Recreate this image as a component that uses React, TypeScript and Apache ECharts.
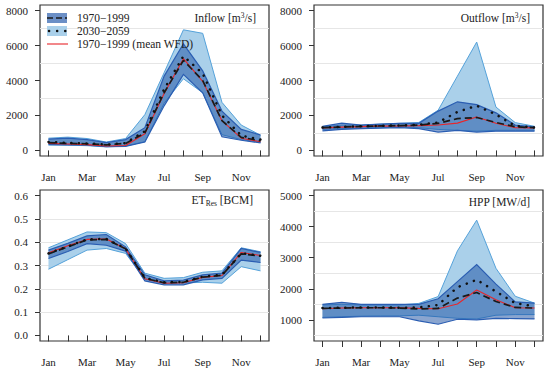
import React, { useEffect, useRef } from "react";
import * as echarts from "echarts";

const months = ["Jan", "Feb", "Mar", "Apr", "May", "Jun", "Jul", "Aug", "Sep", "Oct", "Nov", "Dec"];
const monthIdx = [1, 2, 3, 4, 5, 6, 7, 8, 9, 10, 11, 12];
const monthLabelIdx = [1, 3, 5, 7, 9, 11];

// Inflow [m3/s]
const inflowHistLow = [350, 320, 300, 210, 230, 480, 2550, 4350, 3300, 780, 580, 430];
const inflowHistHigh = [650, 700, 620, 450, 620, 1300, 4250, 6100, 4550, 2250, 1200, 880];
const inflowFutLow = [300, 300, 270, 200, 250, 500, 2700, 4100, 3300, 900, 620, 470];
const inflowFutHigh = [700, 760, 680, 480, 680, 2050, 4450, 6900, 6700, 2750, 1450, 870];
const inflowHistMean = [450, 400, 380, 320, 400, 1000, 3300, 5150, 4000, 1700, 750, 550];
const inflowFutMean = [480, 430, 400, 330, 420, 1100, 3500, 5400, 4400, 2000, 850, 620];
const inflowWFD = [400, 370, 330, 250, 280, 950, 3250, 5250, 3950, 1700, 700, 500];

// Outflow [m3/s]
const outHistLow = [1120, 1200, 1250, 1280, 1300, 1250, 1050, 1150, 1050, 1100, 1100, 1100];
const outHistHigh = [1380, 1560, 1450, 1500, 1550, 1550, 2250, 2780, 2620, 2150, 1450, 1350];
const outFutLow = [1200, 1250, 1260, 1300, 1350, 1300, 1200, 1150, 1100, 1150, 1150, 1150];
const outFutHigh = [1350, 1450, 1450, 1500, 1550, 1600, 2300, 4250, 6200, 2480, 1590, 1380];
const outHistMean = [1300, 1340, 1370, 1400, 1420, 1450, 1550, 1820, 1880, 1600, 1350, 1300];
const outFutMean = [1310, 1350, 1380, 1410, 1430, 1470, 1600, 2200, 2560, 2050, 1400, 1310];
const outWFD = [1290, 1330, 1360, 1390, 1400, 1420, 1450, 1560, 1910, 1550, 1300, 1290];

// ET_Res [BCM]
const etHistLow = [0.33, 0.36, 0.394, 0.387, 0.362, 0.234, 0.217, 0.217, 0.238, 0.245, 0.323, 0.313];
const etHistHigh = [0.366, 0.395, 0.427, 0.433, 0.38, 0.26, 0.234, 0.237, 0.26, 0.267, 0.373, 0.356];
const etFutLow = [0.284, 0.325, 0.366, 0.373, 0.352, 0.241, 0.223, 0.225, 0.228, 0.224, 0.295, 0.277];
const etFutHigh = [0.376, 0.41, 0.444, 0.441, 0.394, 0.267, 0.245, 0.248, 0.271, 0.277, 0.376, 0.359];
const etHistMean = [0.35, 0.38, 0.41, 0.412, 0.372, 0.245, 0.226, 0.228, 0.25, 0.258, 0.35, 0.34];
const etFutMean = [0.352, 0.382, 0.412, 0.414, 0.373, 0.247, 0.228, 0.23, 0.252, 0.26, 0.352, 0.342];
const etWFD = [0.355, 0.385, 0.412, 0.414, 0.372, 0.243, 0.224, 0.226, 0.249, 0.257, 0.356, 0.343];

// HPP [MW/d]
const hppHistLow = [1060, 1080, 1100, 1100, 1100, 970, 860, 1020, 1000, 1050, 1040, 1030];
const hppHistHigh = [1500, 1565, 1500, 1500, 1500, 1500, 1680, 2230, 2780, 2150, 1580, 1540];
const hppFutLow = [1080, 1100, 1120, 1130, 1130, 1150, 1100, 1050, 1030, 1150, 1170, 1170];
const hppFutHigh = [1480, 1500, 1480, 1480, 1480, 1530, 1750, 3220, 4210, 2660, 1760, 1540];
const hppHistMean = [1370, 1380, 1390, 1390, 1380, 1350, 1370, 1700, 1880, 1590, 1400, 1380];
const hppFutMean = [1380, 1390, 1400, 1400, 1390, 1400, 1480, 2050, 2290, 1910, 1540, 1430];
const hppWFD = [1360, 1380, 1390, 1390, 1390, 1370, 1360, 1510, 1960, 1650, 1390, 1380];

const yTicks1 = [0, 2000, 4000, 6000, 8000];
const yTicks3 = [0, 0.1, 0.2, 0.3, 0.4, 0.5, 0.6];
const yTicks4 = [1000, 2000, 3000, 4000, 5000];
const grid1 = [1000, 3000, 5000, 7000];
const grid3 = [0.1, 0.2, 0.3, 0.4, 0.5];
const grid4 = [500, 1500, 2500, 3500, 4500];

const FONT = "Liberation Serif";
const LIGHT_FILL = "#aad0ea";
const LIGHT_EDGE = "#55a2da";
const DARK_FILL = "rgba(21,75,159,0.5)";
const DARK_EDGE = "#2a5db2";

type Panel = {
  histLow: number[]; histHigh: number[]; futLow: number[]; futHigh: number[];
  histMean: number[]; futMean: number[]; wfd: number[];
  yMin: number; yMax: number; yTicks: number[]; grid: number[]; dec: number;
  left: number; top: number;
};

const panels: Panel[] = [
  { histLow: inflowHistLow, histHigh: inflowHistHigh, futLow: inflowFutLow, futHigh: inflowFutHigh,
    histMean: inflowHistMean, futMean: inflowFutMean, wfd: inflowWFD,
    yMin: -320, yMax: 8320, yTicks: yTicks1, grid: grid1, dec: 0, left: 40, top: 5 },
  { histLow: outHistLow, histHigh: outHistHigh, futLow: outFutLow, futHigh: outFutHigh,
    histMean: outHistMean, futMean: outFutMean, wfd: outWFD,
    yMin: -320, yMax: 8320, yTicks: yTicks1, grid: grid1, dec: 0, left: 314, top: 5 },
  { histLow: etHistLow, histHigh: etHistHigh, futLow: etFutLow, futHigh: etFutHigh,
    histMean: etHistMean, futMean: etFutMean, wfd: etWFD,
    yMin: -0.024, yMax: 0.624, yTicks: yTicks3, grid: grid3, dec: 1, left: 40, top: 190 },
  { histLow: hppHistLow, histHigh: hppHistHigh, futLow: hppFutLow, futHigh: hppFutHigh,
    histMean: hppHistMean, futMean: hppFutMean, wfd: hppWFD,
    yMin: 320, yMax: 5180, yTicks: yTicks4, grid: grid4, dec: 0, left: 314, top: 190 },
];

const pairs = (ys: number[]) => monthIdx.map((m, i) => [m, ys[i]]);
const bandRows = (lo: number[], hi: number[]) => monthIdx.map((m, i) => [m, lo[i], hi[i]]);

const bandRender = (fill: string, edge: string, width: number) => (params: any, api: any) => {
  if (params.dataIndexInside !== 0) return null;
  const n = params.dataInsideLength;
  const lowPts: number[][] = [];
  const highPts: number[][] = [];
  for (let i = 0; i < n; i++) {
    const x = api.value(0, i);
    lowPts.push(api.coord([x, api.value(1, i)]));
    highPts.push(api.coord([x, api.value(2, i)]));
  }
  const poly = lowPts.concat(highPts.slice().reverse());
  return {
    type: "group",
    children: [
      { type: "polygon", shape: { points: poly }, style: { fill, stroke: "none" } },
      { type: "polyline", shape: { points: lowPts }, style: { fill: "none", stroke: edge, lineWidth: width } },
      { type: "polyline", shape: { points: highPts }, style: { fill: "none", stroke: edge, lineWidth: width } },
    ],
  };
};

export default function App() {
  const ref = useRef<HTMLDivElement>(null);
  useEffect(() => {
    if (!ref.current) return;
    const chart = echarts.init(ref.current, undefined, { renderer: "svg" });
    const grids: any[] = [];
    const xAxes: any[] = [];
    const yAxes: any[] = [];
    const series: any[] = [];
    panels.forEach((p, gi) => {
      grids.push({ left: p.left, top: p.top, width: 229, height: 151, show: true,
        borderColor: "#333", borderWidth: 1.2, backgroundColor: "transparent" });
      xAxes.push({ type: "value", gridIndex: gi, min: 0.56, max: 12.44,
        axisLine: { show: false }, splitLine: { show: false },
        axisTick: { show: true, customValues: monthIdx, length: 6, lineStyle: { color: "#333" } },
        axisLabel: { customValues: monthLabelIdx, formatter: (v: number) => months[Math.round(v) - 1] || "",
          fontFamily: FONT, fontSize: 11, color: "#222", margin: 15 } });
      yAxes.push({ type: "value", gridIndex: gi, min: p.yMin, max: p.yMax,
        axisLine: { show: false }, splitLine: { show: false },
        axisTick: { show: true, customValues: p.yTicks, length: 5, lineStyle: { color: "#333" } },
        axisLabel: { customValues: p.yTicks, formatter: (v: number) => v.toFixed(p.dec),
          fontFamily: FONT, fontSize: 11, color: "#222", margin: 12 } });
      const common = { xAxisIndex: gi, yAxisIndex: gi, silent: true };
      series.push({ ...common, type: "line", symbol: "none", data: [], z: 1,
        markLine: { silent: true, symbol: "none", z: 1, label: { show: false },
          lineStyle: { color: "#e6e6e6", width: 1, type: "solid" },
          data: p.grid.map((g) => ({ yAxis: g })) } });
      series.push({ ...common, type: "custom", z: 2, data: bandRows(p.futLow, p.futHigh),
        encode: { x: 0, y: [1, 2] }, renderItem: bandRender(LIGHT_FILL, LIGHT_EDGE, 1) });
      series.push({ ...common, type: "custom", z: 3, data: bandRows(p.histLow, p.histHigh),
        encode: { x: 0, y: [1, 2] }, renderItem: bandRender(DARK_FILL, DARK_EDGE, 1.2) });
      series.push({ ...common, type: "line", symbol: "none", z: 4, data: pairs(p.wfd),
        lineStyle: { color: "#e8262a", width: 1.1 } });
      series.push({ ...common, type: "line", symbol: "none", z: 5, data: pairs(p.histMean),
        lineStyle: { color: "#1a1a1a", width: 1.7, type: [7, 4] } });
      series.push({ ...common, type: "line", symbol: "none", z: 5, data: pairs(p.futMean),
        lineStyle: { color: "#111", width: 2.5, type: [0.1, 7.5], cap: "round" } });
    });

    const titleStyle = (text: string, rich: any, x: number, y: number) => ({
      type: "text", x, y, z: 10,
      style: { text, rich, align: "right", verticalAlign: "middle",
        fontFamily: FONT, fontSize: 11.5, fill: "#222" } });
    const richBase = {
      a: { fontFamily: FONT, fontSize: 11.5, color: "#222", lineHeight: 14 },
      sup: { fontFamily: FONT, fontSize: 7.5, color: "#222", verticalAlign: "top", lineHeight: 14 },
      sub: { fontFamily: FONT, fontSize: 7.5, color: "#222", verticalAlign: "bottom", lineHeight: 14 },
    };
    const legendText = (t: string, y: number) => ({ type: "text", x: 77, y, z: 10,
      style: { text: t, fontFamily: FONT, fontSize: 11.5, fill: "#222", verticalAlign: "middle" } });

    const graphic: any[] = [
      titleStyle("{a|Inflow [m}{sup|3}{a|/s]}", richBase, 256, 18),
      titleStyle("{a|Outflow [m}{sup|3}{a|/s]}", richBase, 530, 18),
      titleStyle("{a|ET}{sub|Res}{a| [BCM]}", richBase, 253, 200),
      titleStyle("{a|HPP [MW/d]}", richBase, 530, 202),
      { type: "rect", z: 10, shape: { x: 47, y: 13, width: 20, height: 10 }, style: { fill: "#6b8fc6" } },
      { type: "line", z: 11, shape: { x1: 47, y1: 18, x2: 67, y2: 18 },
        style: { stroke: "#1a1a1a", lineWidth: 1.7, lineDash: [6, 3] } },
      { type: "rect", z: 10, shape: { x: 47, y: 26, width: 20, height: 10 }, style: { fill: LIGHT_FILL } },
      { type: "line", z: 11, shape: { x1: 49, y1: 31, x2: 67, y2: 31 },
        style: { stroke: "#111", lineWidth: 2.5, lineDash: [0.1, 8], lineCap: "round" } },
      { type: "line", z: 11, shape: { x1: 47, y1: 44, x2: 68, y2: 44 },
        style: { stroke: "#e8262a", lineWidth: 1.1 } },
      legendText("1970\u22121999", 18),
      legendText("2030\u22122059", 31),
      legendText("1970\u22121999 (mean WFD)", 44),
    ];

    chart.setOption({
      animation: false,
      backgroundColor: "#fff",
      grid: grids, xAxis: xAxes, yAxis: yAxes, series, graphic,
    });
    return () => chart.dispose();
  }, []);
  return <div ref={ref} style={{ width: 550, height: 371, position: "absolute", left: 0, top: 0 }} />;
}
